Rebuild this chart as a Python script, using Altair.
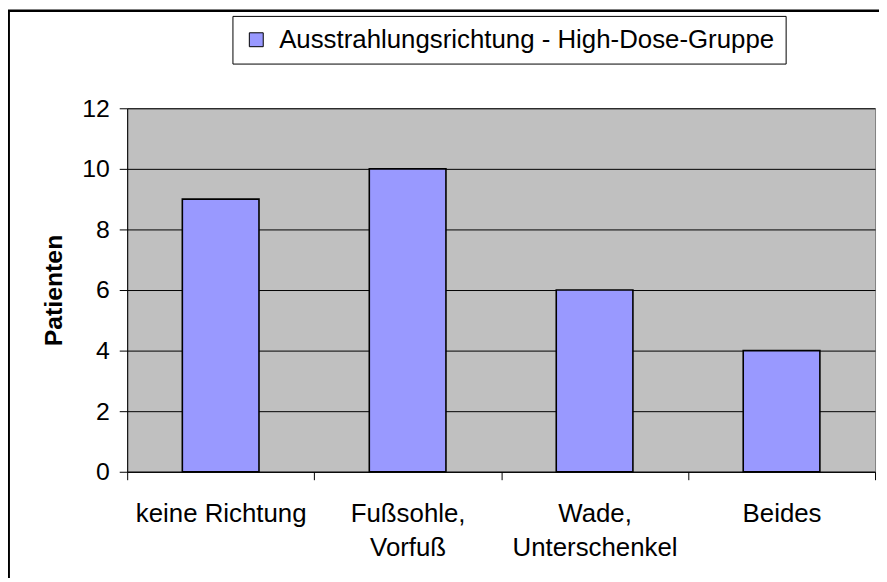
import altair as alt
import pandas as pd

categories = ["keine Richtung", "Fußsohle, Vorfuß", "Wade, Unterschenkel", "Beides"]
patients = [9, 10, 6, 4]
series_name = "Ausstrahlungsrichtung - High-Dose-Gruppe"
y_ticks = [0, 2, 4, 6, 8, 10, 12]

df = pd.DataFrame({"cat": categories, "val": patients, "series": [series_name] * len(categories)})

FONT = "Liberation Sans"

bars = alt.Chart(df).mark_bar(
    width=alt.RelativeBandSize(0.41), stroke="black", strokeWidth=1.6
).encode(
    x=alt.X("cat:N", sort=categories, title=None,
            scale=alt.Scale(paddingInner=0, paddingOuter=0),
            axis=alt.Axis(labelAngle=0, tickBand="extent", domainColor="black", tickColor="black",
                          tickSize=8, labelPadding=21, labelFontSize=26, labelFont=FONT,
                          labelColor="black", labelLineHeight=34, labelBaseline="top",
                          labelExpr="split(replace(datum.label, ', ', ',|'), '|')", grid=False,
                          labelLimit=400)),
    y=alt.Y("val:Q", title="Patienten",
            scale=alt.Scale(domain=[0, 12], nice=False),
            axis=alt.Axis(values=y_ticks, domainColor="black", tickColor="black", tickSize=8,
                          labelPadding=10, labelFontSize=25, labelFont=FONT, labelColor="black",
                          titleFontSize=25, titleFont=FONT, titleFontWeight="bold", titleColor="black",
                          titlePadding=15, grid=True, gridColor="black", gridOpacity=1, gridWidth=1)),
    color=alt.Color("series:N", scale=alt.Scale(domain=[series_name], range=["#9999FF"]),
                    legend=alt.Legend(orient="none", legendX=106, legendY=-93, title=None,
                                      symbolType="square", symbolSize=196, symbolStrokeColor="black",
                                      symbolStrokeWidth=1, symbolOpacity=1, labelFontSize=26,
                                      labelFont=FONT, labelColor="black", labelOffset=10,
                                      labelLimit=1000, padding=11, strokeColor="black",
                                      fillColor="white", cornerRadius=0)),
)

frame = alt.Chart(alt.Data(values=[{"f": 1}])).mark_rect(
    filled=False, stroke="black", strokeWidth=2.5, clip=False
).encode(
    x=alt.value(-119.3), x2=alt.value(800), y=alt.value(-98.3), y2=alt.value(520)
)

chart = alt.layer(bars, frame).properties(
    width=753, height=366,
    background="white",
    autosize=alt.AutoSizeParams(type="none"),
    padding={"left": 120, "top": 99, "right": 4, "bottom": 105},
).configure_view(
    fill="#C0C0C0", stroke="#808080", strokeWidth=1
)

chart.save("out.html", embed_options={"renderer": "svg", "actions": False})
